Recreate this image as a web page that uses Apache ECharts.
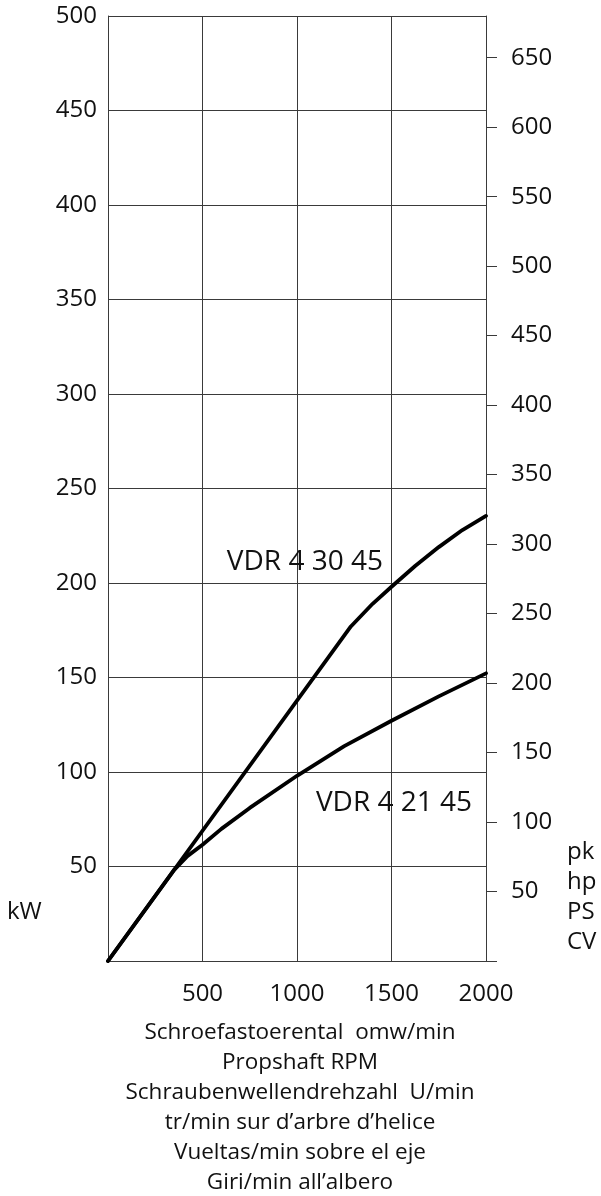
<!DOCTYPE html>
<html>
<head>
<meta charset="utf-8">
<script src="https://cdn.jsdelivr.net/npm/echarts@6/dist/echarts.min.js"></script>
<style>
  html, body { margin: 0; padding: 0; background: #fff; }
  #chart { width: 601px; height: 1196px; }
</style>
</head>
<body>
<div id="chart"></div>
<script>
// Propeller-shaft power curves (kW vs RPM), hp scale on the right
const rpmTicks = [0, 500, 1000, 1500, 2000];
const kwTicks = [0, 50, 100, 150, 200, 250, 300, 350, 400, 450, 500];
const hpTicks = [0, 50, 100, 150, 200, 250, 300, 350, 400, 450, 500, 550, 600, 650];

const rpm43045 = [0, 1285, 1400, 1500, 1625, 1750, 1875, 2000];
const kw43045 = [0, 177, 189, 198, 209, 219, 228, 235.5];

const rpm42145 = [0, 350, 420, 500, 600, 750, 1000, 1250, 1500, 1750, 2000];
const kw42145 = [0, 48.2, 55.5, 61.5, 69.9, 81, 98, 113.7, 127.1, 140, 152.2];

const seriesNames = ['VDR 4 30 45', 'VDR 4 21 45'];
const labelAt = [[1042, 211], [1513, 83.6]];

const xTitleLines = [
  'Schroefastoerental  omw/min',
  'Propshaft RPM',
  'Schraubenwellendrehzahl  U/min',
  'tr/min sur d\u2019arbre d\u2019helice',
  'Vueltas/min sobre el eje',
  'Giri/min all\u2019albero'
];
const leftUnit = 'kW';
const rightUnits = ['pk', 'hp', 'PS', 'CV'];

const KW_TO_HP = 1.36;
const FONT = 'Open Sans';
const FS = 24;
const LINE = '#3a3a3a';

const pairs = (xs, ys) => xs.map((x, i) => [x, ys[i]]);

const chart = echarts.init(document.getElementById('chart'), null, { renderer: 'canvas' });

function curve(name, data, lab) {
  return {
    name: name,
    type: 'line',
    xAxisIndex: 0,
    yAxisIndex: 0,
    data: data,
    showSymbol: false,
    symbol: 'none',
    lineStyle: { color: '#000', width: 3.8, cap: 'round', join: 'round' },
    markPoint: {
      symbol: 'rect',
      symbolSize: [1, 1],
      itemStyle: { color: 'rgba(0,0,0,0)' },
      label: {
        show: true, position: 'inside', formatter: name,
        color: '#111', fontFamily: FONT, fontSize: 28
      },
      data: [{ coord: lab }]
    }
  };
}

chart.setOption({
  animation: false,
  backgroundColor: '#fff',
  grid: { left: 108, right: 115, top: 16, bottom: 235, containLabel: false },
  xAxis: {
    type: 'value',
    min: rpmTicks[0], max: rpmTicks[rpmTicks.length - 1], interval: 500,
    axisLine: { show: true, lineStyle: { color: LINE, width: 1 } },
    axisTick: { show: false },
    splitLine: { show: true, lineStyle: { color: LINE, width: 1 } },
    axisLabel: {
      color: '#111', fontFamily: FONT, fontSize: FS, margin: 21,
      formatter: v => (rpmTicks.includes(v) && v !== 0 ? String(v) : '')
    }
  },
  yAxis: [
    {
      type: 'value', position: 'left',
      min: kwTicks[0], max: kwTicks[kwTicks.length - 1], interval: 50,
      axisLine: { show: true, lineStyle: { color: LINE, width: 1 } },
      axisTick: { show: false },
      splitLine: { show: true, lineStyle: { color: LINE, width: 1 } },
      axisLabel: {
        color: '#111', fontFamily: FONT, fontSize: FS, margin: 11,
        formatter: v => (kwTicks.includes(v) && v !== 0 ? String(v) : '')
      }
    },
    {
      type: 'value', position: 'right',
      min: 0, max: kwTicks[kwTicks.length - 1] * KW_TO_HP, interval: 50,
      alignTicks: false,
      axisLine: { show: true, lineStyle: { color: LINE, width: 1 } },
      axisTick: { show: true, inside: false, length: 11, lineStyle: { color: LINE, width: 1 } },
      splitLine: { show: false },
      axisLabel: {
        color: '#111', fontFamily: FONT, fontSize: FS, margin: 25,
        showMaxLabel: false,
        formatter: v => (hpTicks.includes(v) && v !== 0 ? String(v) : '')
      }
    }
  ],
  graphic: [
    {
      type: 'text', x: 300, y: 1018,
      style: {
        text: xTitleLines.join('\n'), align: 'center', verticalAlign: 'top',
        fontFamily: FONT, fontSize: 22.5, lineHeight: 30, fill: '#111'
      }
    },
    {
      type: 'text', x: 7, y: 912,
      style: {
        text: leftUnit, align: 'left', verticalAlign: 'middle',
        fontFamily: FONT, fontSize: FS, fill: '#111'
      }
    },
    {
      type: 'text', x: 567, y: 837,
      style: {
        text: rightUnits.join('\n'), align: 'left', verticalAlign: 'top',
        fontFamily: FONT, fontSize: FS, lineHeight: 30, fill: '#111'
      }
    }
  ],
  series: [
    curve(seriesNames[0], pairs(rpm43045, kw43045), labelAt[0]),
    curve(seriesNames[1], pairs(rpm42145, kw42145), labelAt[1])
  ]
});
</script>
</body>
</html>
